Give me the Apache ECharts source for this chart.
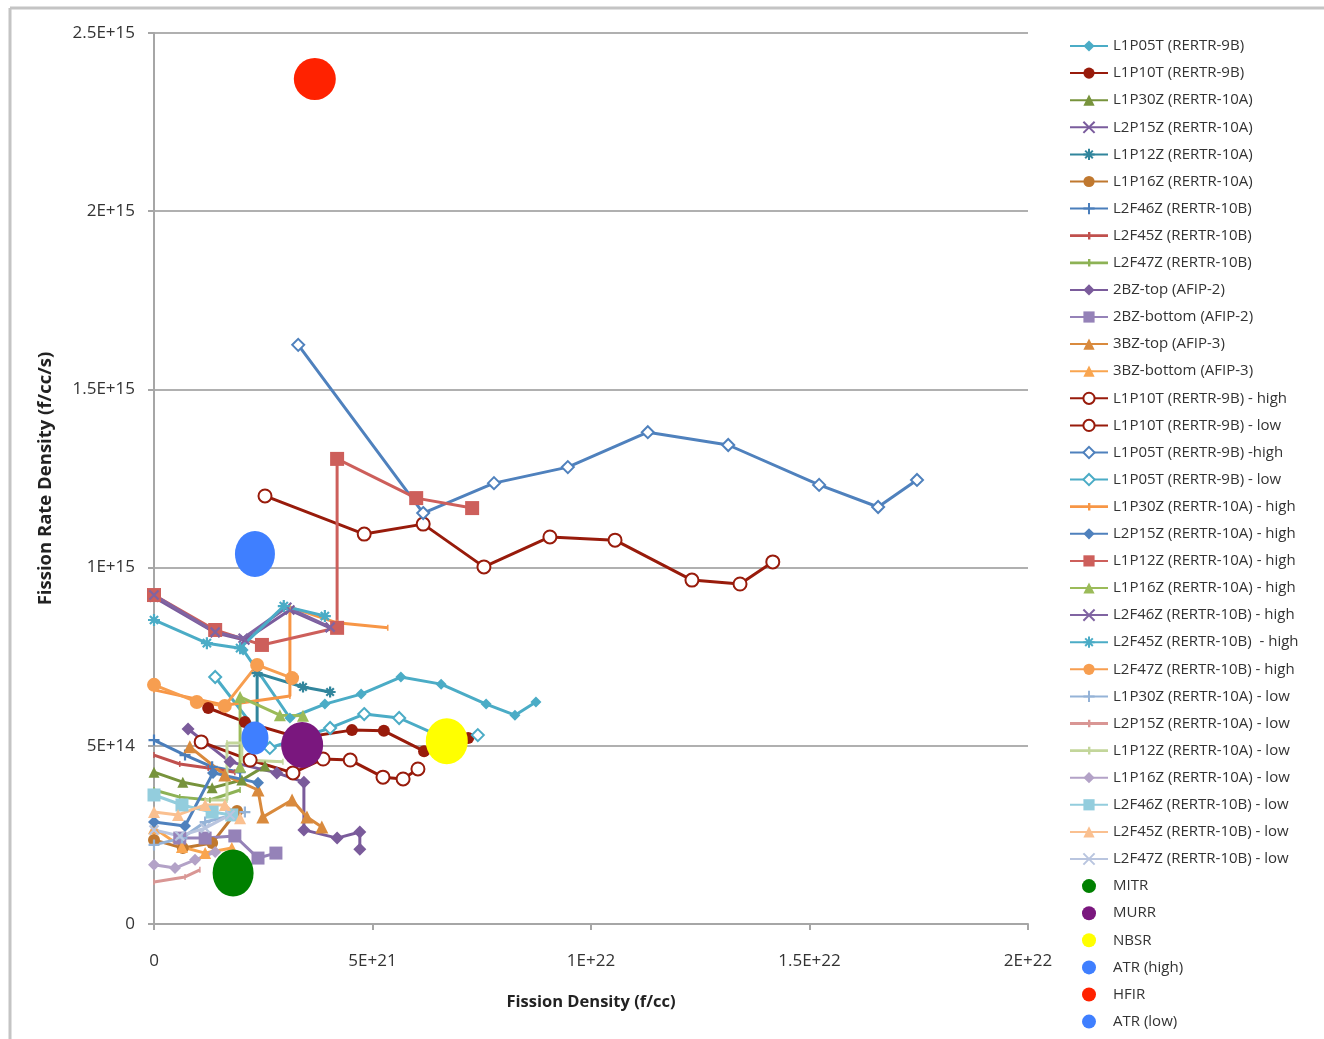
<!DOCTYPE html>
<html>
<head>
<meta charset="utf-8">
<script src="https://cdn.jsdelivr.net/npm/echarts@6/dist/echarts.min.js"></script>
<style>
html,body{margin:0;padding:0;background:#fff;}
#chart{width:1324px;height:1039px;}
</style>
</head>
<body>
<div id="chart"></div>
<script>
// ---- tick labels ----
const xTickLabels = ['0', '5E+21', '1E+22', '1.5E+22', '2E+22'];
const yTickLabels = ['0', '5E+14', '1E+15', '1.5E+15', '2E+15', '2.5E+15'];

// ---- series data: [fission density (f/cc), fission rate density (f/cc/s)] ----
const L1P05T = [[2.04e21,7.69e14],[3.11e21,5.78e14],[3.91e21,6.17e14],[4.74e21,6.45e14],[5.65e21,6.93e14],[6.57e21,6.73e14],[7.60e21,6.17e14],[8.26e21,5.86e14],[8.74e21,6.23e14]];
const L1P10T = [[1.24e21,6.06e14],[2.08e21,5.67e14],[3.34e21,5.22e14],[4.53e21,5.44e14],[5.26e21,5.42e14],[6.18e21,4.85e14],[7.19e21,5.22e14]];
const L1P30Z = [[0,4.26e14],[0.66e21,3.98e14],[1.33e21,3.82e14],[2.01e21,4.04e14],[2.54e21,4.43e14]];
const L2P15Z = [[0,9.17e14],[1.40e21,8.17e14],[2.08e21,7.97e14],[3.11e21,8.81e14],[4.03e21,8.31e14]];
const L1P12Z = [[2.36e21,5.30e14],[2.36e21,7.04e14],[3.41e21,6.65e14],[4.03e21,6.51e14]];
const L1P16Z = [[0,2.36e14],[0.66e21,2.13e14],[1.33e21,2.27e14],[1.90e21,3.17e14]];
const L2F46Z = [[0,5.16e14],[0.71e21,4.74e14],[1.33e21,4.41e14],[1.97e21,4.26e14]];
const L2F45Z = [[0,4.74e14],[0.59e21,4.49e14],[1.24e21,4.38e14],[1.85e21,4.26e14]];
const L2F47Z = [[0,3.76e14],[0.59e21,3.56e14],[1.28e21,3.48e14],[1.97e21,3.76e14]];
const BZ2top = [[0.78e21,5.47e14],[1.74e21,4.55e14],[2.81e21,4.24e14],[3.43e21,3.98e14],[3.43e21,2.64e14],[4.19e21,2.41e14],[4.71e21,2.58e14],[4.71e21,2.10e14]];
const BZ2bottom = [[0.59e21,2.41e14],[1.17e21,2.41e14],[1.85e21,2.47e14],[2.38e21,1.85e14],[2.79e21,1.99e14]];
const BZ3top = [[0.82e21,4.97e14],[1.62e21,4.18e14],[2.38e21,3.76e14],[2.49e21,3.00e14],[3.16e21,3.48e14],[3.50e21,3.00e14],[3.84e21,2.72e14]];
const BZ3bottom = [[0,2.69e14],[0.64e21,2.16e14],[1.17e21,1.99e14],[1.78e21,2.13e14]];
const L1P10T_high = [[2.54e21,12.01e14],[4.81e21,10.94e14],[6.16e21,11.22e14],[7.55e21,10.02e14],[9.06e21,10.86e14],[10.55e21,10.77e14],[12.31e21,9.65e14],[13.41e21,9.54e14],[14.16e21,10.16e14]];
const L1P10T_low = [[1.08e21,5.11e14],[2.20e21,4.60e14],[3.18e21,4.24e14],[3.87e21,4.63e14],[4.49e21,4.60e14],[5.24e21,4.12e14],[5.70e21,4.07e14],[6.04e21,4.35e14]];
const L1P05T_high = [[3.30e21,16.25e14],[6.16e21,11.53e14],[7.78e21,12.37e14],[9.47e21,12.82e14],[11.30e21,13.80e14],[13.14e21,13.44e14],[15.22e21,12.32e14],[16.57e21,11.70e14],[17.46e21,12.46e14]];
const L1P05T_low = [[1.40e21,6.93e14],[2.65e21,4.94e14],[4.03e21,5.50e14],[4.81e21,5.89e14],[5.61e21,5.78e14],[6.54e21,5.27e14],[7.41e21,5.30e14]];
const L1P30Z_high = [[0,6.57e14],[1.62e21,6.14e14],[3.11e21,6.40e14],[3.11e21,8.89e14],[4.19e21,8.45e14],[5.35e21,8.31e14]];
const L2P15Z_high = [[0,2.86e14],[0.71e21,2.75e14],[1.35e21,4.24e14],[2.38e21,3.96e14]];
const L1P12Z_high = [[0,9.23e14],[1.40e21,8.25e14],[2.47e21,7.83e14],[4.19e21,8.31e14],[4.19e21,13.05e14],[6.00e21,11.95e14],[7.28e21,11.67e14]];
const L1P16Z_high = [[1.97e21,4.41e14],[1.97e21,6.37e14],[2.88e21,5.86e14],[3.41e21,5.84e14]];
const L2F46Z_high = [[0,9.23e14],[1.40e21,8.19e14],[2.04e21,8.02e14],[3.04e21,8.89e14],[4.03e21,8.33e14]];
const L2F45Z_high = [[0,8.53e14],[1.21e21,7.88e14],[1.97e21,7.74e14],[2.97e21,8.92e14],[3.91e21,8.64e14]];
const L2F47Z_high = [[0,6.71e14],[0.98e21,6.23e14],[1.62e21,6.12e14],[2.36e21,7.27e14],[3.16e21,6.90e14]];
const L1P30Z_low = [[0,2.22e14],[0.64e21,2.41e14],[1.17e21,2.86e14],[2.08e21,3.14e14]];
const L2P15Z_low = [[0,1.18e14],[0.71e21,1.32e14],[1.05e21,1.52e14]];
const L1P12Z_low = [[1.17e21,3.48e14],[1.67e21,3.48e14],[1.67e21,5.08e14],[2.01e21,5.08e14],[2.01e21,4.60e14],[2.95e21,4.55e14]];
const L1P16Z_low = [[0,1.66e14],[0.48e21,1.57e14],[0.94e21,1.80e14],[1.40e21,2.02e14]];
const L2F46Z_low = [[0,3.62e14],[0.64e21,3.34e14],[1.33e21,3.14e14],[1.78e21,3.06e14]];
const L2F45Z_low = [[0,3.14e14],[0.55e21,3.06e14],[1.17e21,3.34e14],[1.62e21,3.34e14],[1.97e21,2.97e14]];
const L2F47Z_low = [[0,2.64e14],[0.59e21,2.47e14],[1.17e21,2.69e14],[1.74e21,3.06e14]];
const MITR = [[1.81e21,1.43e14]];
const MURR = [[3.39e21,5.02e14]];
const NBSR = [[6.70e21,5.13e14]];
const ATR_high = [[2.31e21,10.38e14]];
const HFIR = [[3.68e21,23.71e14]];
const ATR_low = [[2.31e21,5.22e14]];

// ---- styling ----
const XSYM = 'path://M0,0L10,10M10,0L0,10';
const PLUS = 'path://M5,0L5,10M0,5L10,5';
const STAR = 'path://M5,0L5,10M0,5L10,5M1.6,1.6L8.4,8.4M8.4,1.6L1.6,8.4';
const TICK = 'path://M0,0L2.4,0L2.4,10L0,10Z';
const DASH_ICON = 'path://M0,6L38,6L38,8.8L0,8.8Z M18,3.6L20.4,3.6L20.4,11.2L18,11.2Z';
const FONT = '"Open Sans", Lato, sans-serif';

function line(name, data, color, symbol, size) {
  const stroke = (symbol === XSYM || symbol === PLUS || symbol === STAR);
  return {
    name: name, type: 'line', data: data,
    symbol: symbol, symbolSize: size, symbolKeepAspect: true,
    lineStyle: {color: color, width: 3},
    itemStyle: stroke ? {color: color, borderColor: color, borderWidth: 2.2}
                      : (symbol.indexOf('empty') === 0 ? {color: color, borderWidth: 2} : {color: color}),
    emphasis: {disabled: true},
    z: 2
  };
}
function dot(name, data, color, size) {
  return {name: name, type: 'scatter', data: data, symbol: 'circle', symbolSize: size,
          itemStyle: {color: color, opacity: 1}, emphasis: {disabled: true}, z: 3};
}

const series = [
  line('L1P05T (RERTR-9B)', L1P05T, '#4bacc6', 'diamond', 11),
  line('L1P10T (RERTR-9B)', L1P10T, '#981b0b', 'circle', 12),
  line('L1P30Z (RERTR-10A)', L1P30Z, '#77933c', 'triangle', 11),
  line('L2P15Z (RERTR-10A)', L2P15Z, '#7a5c9d', XSYM, 9),
  line('L1P12Z (RERTR-10A)', L1P12Z, '#31859c', STAR, 11),
  line('L1P16Z (RERTR-10A)', L1P16Z, '#c0782f', 'circle', 12),
  line('L2F46Z (RERTR-10B)', L2F46Z, '#4a7ebb', PLUS, 11),
  line('L2F45Z (RERTR-10B)', L2F45Z, '#c0504d', TICK, 6),
  line('L2F47Z (RERTR-10B)', L2F47Z, '#8db255', TICK, 6),
  line('2BZ-top (AFIP-2)', BZ2top, '#7a5b9b', 'diamond', 13),
  line('2BZ-bottom (AFIP-2)', BZ2bottom, '#9582b8', 'rect', 13),
  line('3BZ-top (AFIP-3)', BZ3top, '#d98a3d', 'triangle', 13),
  line('3BZ-bottom (AFIP-3)', BZ3bottom, '#f9a54f', 'triangle', 12),
  line('L1P10T (RERTR-9B) - high', L1P10T_high, '#981b0b', 'emptyCircle', 13),
  line('L1P10T (RERTR-9B) - low', L1P10T_low, '#981b0b', 'emptyCircle', 13),
  line('L1P05T (RERTR-9B) -high', L1P05T_high, '#4f81bd', 'emptyDiamond', 12),
  line('L1P05T (RERTR-9B) - low', L1P05T_low, '#4bacc6', 'emptyDiamond', 12),
  line('L1P30Z (RERTR-10A) - high', L1P30Z_high, '#f79646', TICK, 6),
  line('L2P15Z (RERTR-10A) - high', L2P15Z_high, '#4f81bd', 'diamond', 12),
  line('L1P12Z (RERTR-10A) - high', L1P12Z_high, '#cd5f5b', 'rect', 14),
  line('L1P16Z (RERTR-10A) - high', L1P16Z_high, '#9bbb59', 'triangle', 12),
  line('L2F46Z (RERTR-10B) - high', L2F46Z_high, '#8064a2', XSYM, 9),
  line('L2F45Z (RERTR-10B)  - high', L2F45Z_high, '#4bacc6', STAR, 12),
  line('L2F47Z (RERTR-10B) - high', L2F47Z_high, '#f79e50', 'circle', 14),
  line('L1P30Z (RERTR-10A) - low', L1P30Z_low, '#95b3d7', PLUS, 11),
  line('L2P15Z (RERTR-10A) - low', L2P15Z_low, '#d99694', TICK, 6),
  line('L1P12Z (RERTR-10A) - low', L1P12Z_low, '#c3d69b', TICK, 6),
  line('L1P16Z (RERTR-10A) - low', L1P16Z_low, '#b3a2c7', 'diamond', 12),
  line('L2F46Z (RERTR-10B) - low', L2F46Z_low, '#93cddd', 'rect', 13),
  line('L2F45Z (RERTR-10B) - low', L2F45Z_low, '#fac090', 'triangle', 12),
  line('L2F47Z (RERTR-10B) - low', L2F47Z_low, '#b9c5df', XSYM, 9),
  dot('MITR', MITR, '#008000', [41, 47]),
  dot('MURR', MURR, '#7a177e', [42, 46]),
  dot('NBSR', NBSR, '#ffff00', [42, 46]),
  dot('ATR (high)', ATR_high, '#3f7fff', [40, 46]),
  dot('HFIR', HFIR, '#ff2200', [42, 42]),
  dot('ATR (low)', ATR_low, '#3f7fff', [27, 33])
];

const legendData = series.map(function (s) {
  return s.symbol === TICK ? {name: s.name, icon: DASH_ICON} : {name: s.name};
});

const chart = echarts.init(document.getElementById('chart'), null, {renderer: 'canvas'});
chart.setOption({
  animation: false,
  backgroundColor: '#ffffff',
  textStyle: {fontFamily: FONT},
  grid: {left: 154, right: 296, top: 33, bottom: 115, containLabel: false},
  graphic: [
    {type: 'line', shape: {x1: 10, y1: 8, x2: 1324, y2: 8}, style: {stroke: '#c4c4c4', lineWidth: 3}, silent: true},
    {type: 'line', shape: {x1: 10, y1: 8, x2: 10, y2: 1039}, style: {stroke: '#c4c4c4', lineWidth: 3}, silent: true}
  ],
  xAxis: {
    type: 'value', min: 0, max: 2e22, interval: 5e21,
    name: 'Fission Density (f/cc)', nameLocation: 'middle', nameGap: 70,
    nameTextStyle: {fontSize: 16.5, fontWeight: 'bold', color: '#222', fontFamily: FONT},
    axisLine: {show: true, lineStyle: {color: '#a6a6a6', width: 2}},
    axisTick: {show: true, length: 6, lineStyle: {color: '#a6a6a6', width: 2}},
    axisLabel: {margin: 29, fontSize: 17, color: '#333', fontFamily: FONT,
      formatter: function (v) { return xTickLabels[Math.round(v / 5e21)]; }},
    splitLine: {show: false}
  },
  yAxis: {
    type: 'value', min: 0, max: 2.5e15, interval: 5e14,
    name: 'Fission Rate Density (f/cc/s)', nameLocation: 'middle', nameGap: 99, nameRotate: 90,
    nameTextStyle: {fontSize: 18.5, fontWeight: 'bold', color: '#222', fontFamily: FONT},
    axisLine: {show: true, lineStyle: {color: '#a6a6a6', width: 2}},
    axisTick: {show: true, length: 6, lineStyle: {color: '#a6a6a6', width: 2}},
    axisLabel: {margin: 19, fontSize: 17, color: '#333', fontFamily: FONT,
      formatter: function (v) { return yTickLabels[Math.round(v / 5e14)]; }},
    splitLine: {show: true, lineStyle: {color: '#b0b0b0', width: 2}}
  },
  legend: {
    orient: 'vertical', left: 1069, top: 38.5, padding: 0,
    itemWidth: 38, itemHeight: 14, itemGap: 12.1,
    textStyle: {fontSize: 15, color: '#333', fontFamily: FONT},
    data: legendData
  },
  series: series
});
</script>
</body>
</html>
